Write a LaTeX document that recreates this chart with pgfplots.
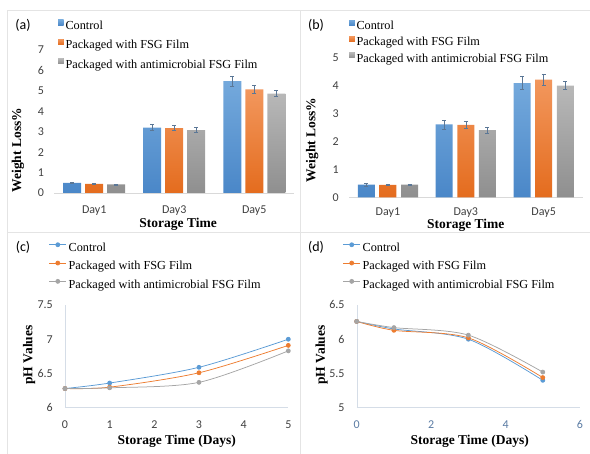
\documentclass[border=0pt]{standalone}
\usepackage{pgfplots}
\pgfplotsset{compat=1.18}
\usepackage{fontspec}
\setmainfont{Liberation Serif}
\newfontfamily\calibri{Carlito}

\definecolor{ctrlTop}{HTML}{74A9DC}
\definecolor{ctrlBot}{HTML}{4A87C8}
\definecolor{fsgTop}{HTML}{F2975D}
\definecolor{fsgBot}{HTML}{E46C1E}
\definecolor{antiTop}{HTML}{B8B8B8}
\definecolor{antiBot}{HTML}{8F8F8F}
\definecolor{ctrlLine}{HTML}{5B9BD5}
\definecolor{fsgLine}{HTML}{ED7D31}
\definecolor{antiLine}{HTML}{A5A5A5}
\definecolor{panelRule}{HTML}{E4E4E4}
\definecolor{baseRule}{HTML}{D9D9D9}
\definecolor{axisBlue}{HTML}{D5DDE7}
\definecolor{errBar}{HTML}{5B7796}
\definecolor{tickText}{HTML}{404040}
\definecolor{tickBlue}{HTML}{5A7BA3}

\pgfplotsset{
  common/.style={
    scale only axis, anchor=south west,
    axis x line*=bottom, axis y line*=left,
    major tick length=0pt,
    tick label style={font=\calibri\fontsize{12}{12}\selectfont, text=tickText, inner sep=0pt},
    /pgf/number format/assume math mode=true,
    label style={font=\bfseries\fontsize{13.5}{13.5}\selectfont, inner sep=0pt},
    legend cell align=left,
    legend style={draw=none, fill=none, inner sep=0pt, outer sep=0pt, anchor=north west,
      font=\fontsize{12.25}{12.25}\selectfont,
      nodes={inner sep=0pt, text height=9pt, text depth=3pt}},
  },
  barpanel/.style={common,
    x axis line style={draw=baseRule, -}, y axis line style={draw=none},
    xmin=-0.5, xmax=2.5, ymin=0,
    xtick={0,1,2}, xticklabels={Day1,Day3,Day5},
    yticklabel style={xshift=-10pt},
    legend style={/tikz/every odd column/.append style={column sep=2pt}},
  },
  errs/.style={error bars/y dir=both, error bars/y explicit,
    error bars/error bar style={errBar, line width=0.6pt},
    error bars/error mark options={rotate=90, errBar, mark size=2pt, line width=0.6pt}},
  ctrlbar/.style={draw=none, top color=ctrlTop, bottom color=ctrlBot, errs,
    legend image code/.code={\fill[ctrlLine] (0pt,1.2pt) rectangle (5.5pt,6.7pt);}},
  fsgbar/.style={draw=none, top color=fsgTop, bottom color=fsgBot, errs,
    legend image code/.code={\fill[fsgLine] (0pt,1.2pt) rectangle (5.5pt,6.7pt);}},
  antibar/.style={draw=none, top color=antiTop, bottom color=antiBot, errs,
    legend image code/.code={\fill[antiLine] (0pt,1.2pt) rectangle (5.5pt,6.7pt);}},
  linepanel/.style={common,
    axis line style={draw=axisBlue, -},
    width=223.3pt, height=102.7pt,
    xticklabel style={yshift=-12.5pt},
    yticklabel style={xshift=-12pt},
    legend image code/.code={\draw[#1, mark repeat=2, mark phase=2] plot coordinates {(0pt,3.9pt) (8.5pt,3.9pt) (17pt,3.9pt)};},
    legend style={row sep=6.3pt, /tikz/every odd column/.append style={column sep=2pt}},
  },
  ctrlline/.style={color=ctrlLine, smooth, line width=0.75pt, mark=*, mark size=2pt, mark options={solid}},
  fsgline/.style={color=fsgLine, smooth, line width=0.75pt, mark=*, mark size=2pt, mark options={solid}},
  antiline/.style={color=antiLine, smooth, line width=0.75pt, mark=*, mark size=2pt, mark options={solid}},
}

\begin{document}
\begin{tikzpicture}
\path[use as bounding box] (0pt,0pt) rectangle (590pt,454pt);
% panel rules
\draw[panelRule, line width=0.8pt] (7.5pt,0pt) -- (7.5pt,444pt) -- (590pt,444pt);
\draw[panelRule, line width=0.8pt] (300pt,0pt) -- (300pt,444pt);
\draw[panelRule, line width=0.8pt] (7.5pt,222pt) -- (590pt,222pt);

% (a) weight loss
\begin{axis}[barpanel, at={(54.2pt,261pt)}, width=240.1pt, height=143pt,
  ymax=7, ytick={0,1,...,7}, ybar=4pt, bar width=18pt,
  xticklabel style={yshift=-13pt},
  xlabel={Storage Time}, ylabel={Weight Loss\%},
  xlabel style={at={(axis description cs:0.516,-0.217)}, anchor=center},
  ylabel style={at={(axis description cs:-0.151,0.30)}, anchor=center},
  legend style={at={(axis description cs:0.016,1.21)}, row sep=6.5pt}]
\addplot[ctrlbar] coordinates {(0,0.49) +- (0,0.03) (1,3.2) +- (0,0.15) (2,5.48) +- (0,0.25)};
\addplot[fsgbar] coordinates {(0,0.45) +- (0,0.03) (1,3.18) +- (0,0.13) (2,5.07) +- (0,0.2)};
\addplot[antibar] coordinates {(0,0.42) +- (0,0.02) (1,3.08) +- (0,0.12) (2,4.87) +- (0,0.15)};
\legend{Control, Packaged with FSG Film, Packaged with antimicrobial FSG Film}
\end{axis}

% (b) weight loss
\begin{axis}[barpanel, at={(349pt,256.7pt)}, width=233.6pt, height=140pt,
  ymax=5, ytick={0,1,...,5}, ybar=4.6pt, bar width=17pt,
  xticklabel style={yshift=-10pt},
  xlabel={Storage Time}, ylabel={Weight Loss\%},
  xlabel style={at={(axis description cs:0.5,-0.2)}, anchor=center},
  ylabel style={at={(axis description cs:-0.158,0.41)}, anchor=center},
  legend style={at={(axis description cs:0.0,1.266)}, row sep=3.5pt}]
\addplot[ctrlbar] coordinates {(0,0.45) +- (0,0.04) (1,2.6) +- (0,0.16) (2,4.08) +- (0,0.24)};
\addplot[fsgbar] coordinates {(0,0.44) +- (0,0.02) (1,2.59) +- (0,0.13) (2,4.2) +- (0,0.19)};
\addplot[antibar] coordinates {(0,0.45) +- (0,0.02) (1,2.4) +- (0,0.11) (2,3.99) +- (0,0.14)};
\legend{Control, Packaged with FSG Film, Packaged with antimicrobial FSG Film}
\end{axis}

% (c) pH
\begin{axis}[linepanel, at={(65pt,46.3pt)},
  xmin=0, xmax=5, xtick={0,1,...,5}, ymin=6, ymax=7.5, ytick={6,6.5,7,7.5},
  xlabel={Storage Time (Days)}, ylabel={pH Values},
  xlabel style={at={(axis description cs:0.5,-0.331)}, anchor=center},
  ylabel style={at={(axis description cs:-0.161,0.513)}, anchor=center},
  legend style={at={(axis description cs:-0.072,1.607)}}]
\addplot[ctrlline] coordinates {(0,6.28) (1,6.36) (3,6.59) (5,7.0)};
\addplot[fsgline] coordinates {(0,6.28) (1,6.30) (3,6.51) (5,6.91)};
\addplot[antiline] coordinates {(0,6.28) (1,6.29) (3,6.37) (5,6.83)};
\legend{Control, Packaged with FSG Film, Packaged with antimicrobial FSG Film}
\end{axis}

% (d) pH
\begin{axis}[linepanel, at={(356.7pt,46.3pt)},
  xmin=0, xmax=6, xtick={0,2,4,6}, ymin=5, ymax=6.5, ytick={5,5.5,6,6.5},
  xticklabel style={text=tickBlue},
  xlabel={Storage Time (Days)}, ylabel={pH Values},
  xlabel style={at={(axis description cs:0.506,-0.331)}, anchor=center},
  ylabel style={at={(axis description cs:-0.157,0.513)}, anchor=center},
  legend style={at={(axis description cs:-0.062,1.607)}}]
\addplot[ctrlline] coordinates {(0,6.26) (1,6.15) (3,6.0) (5,5.40)};
\addplot[fsgline] coordinates {(0,6.26) (1,6.13) (3,6.02) (5,5.44)};
\addplot[antiline] coordinates {(0,6.26) (1,6.17) (3,6.06) (5,5.52)};
\legend{Control, Packaged with FSG Film, Packaged with antimicrobial FSG Film}
\end{axis}

\node[font=\calibri\fontsize{14}{14}\selectfont] at (23pt,429pt) {(a)};
\node[font=\calibri\fontsize{14}{14}\selectfont] at (316pt,429pt) {(b)};
\node[font=\calibri\fontsize{14}{14}\selectfont] at (23pt,206.3pt) {(c)};
\node[font=\calibri\fontsize{14}{14}\selectfont] at (316pt,206.3pt) {(d)};
\end{tikzpicture}
\end{document}
